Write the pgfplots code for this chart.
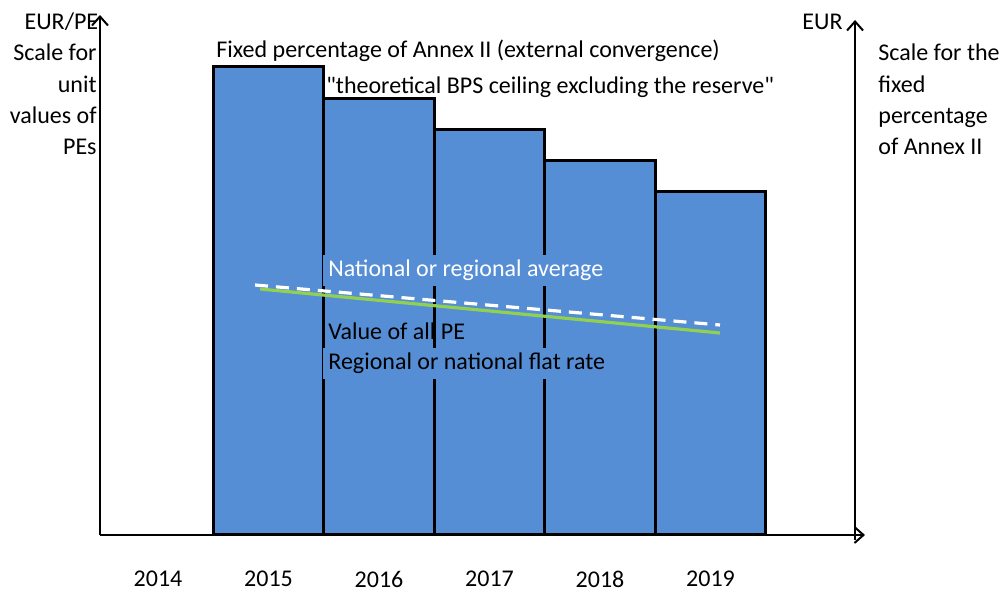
\documentclass[border=0pt]{standalone}
\usepackage{fontspec}
\setmainfont{Carlito}[Ligatures=TeXOff]
\usepackage{pgfplots}
\pgfplotsset{compat=1.18}
\usetikzlibrary{arrows.meta}
\definecolor{barblue}{HTML}{558ED5}
\definecolor{lgreen}{HTML}{92D050}
\begin{document}
\begin{tikzpicture}[font=\fontsize{12}{14}\selectfont]
\begin{axis}[
    x=55.25pt, y=0.5pt,
    xmin=2013.475, xmax=2020.398,
    ymin=0, ymax=520,
    axis lines=left,
    axis line style={line width=1pt, -{Straight Barb[length=4.5pt,width=8pt]}},
    enlargelimits=false,
    clip=false,
    xtick={2014,2015,2016,2017,2018,2019},
    xticklabels={2014,2015,2016,2017,2018,2019},
    xtick style={draw=none},
    ytick=\empty,
    xticklabel style={anchor=center, yshift=-20pt, font=\fontsize{12}{14}\selectfont},
]
% fixed percentage of Annex II per year
\addplot[ybar, bar width=1, bar shift=0pt, fill=barblue, draw=black, line width=1.5pt]
    coordinates {(2015,468) (2016,436) (2017,405) (2018,374) (2019,343)};
% national or regional average
\addplot[white, line width=1.6pt, dash pattern=on 6.5pt off 4pt]
    coordinates {(2014.878,250) (2019.086,210)};
% regional or national flat rate
\addplot[lgreen, line width=1.6pt]
    coordinates {(2014.923,246) (2019.086,202)};

% right axis
\draw[line width=1pt, -{Straight Barb[length=4.5pt,width=8pt]}]
    (axis cs:2020.308,-5) -- (axis cs:2020.308,515);

\node[anchor=base east, inner sep=1pt] at (axis cs:2013.480,505.3) {EUR/PE};
\node[anchor=base east, inner sep=1pt] at (axis cs:2013.466,474.3) {Scale for};
\node[anchor=base east, inner sep=1pt] at (axis cs:2013.466,442.3) {unit};
\node[anchor=base east, inner sep=1pt] at (axis cs:2013.466,411.3) {values of};
\node[anchor=base east, inner sep=1pt] at (axis cs:2013.466,380.3) {PEs};

\node[anchor=base west, inner sep=0pt] at (axis cs:2019.828,505.3) {EUR};
\node[anchor=base west, inner sep=0pt] at (axis cs:2020.516,474.3) {Scale for the};
\node[anchor=base west, inner sep=0pt] at (axis cs:2020.516,442.3) {fixed};
\node[anchor=base west, inner sep=0pt] at (axis cs:2020.516,411.3) {percentage};
\node[anchor=base west, inner sep=0pt] at (axis cs:2020.516,380.3) {of Annex II};

\node[anchor=base west, inner sep=0pt] at (axis cs:2014.525,477.3)
    {Fixed percentage of Annex II (external convergence)};
\node[anchor=base west, inner sep=0pt] at (axis cs:2015.520,441.3)
    {"theoretical BPS ceiling excluding the reserve"};

\node[anchor=west, fill=barblue, text=white, inner xsep=2.5pt, inner ysep=0pt,
      minimum height=15.5pt, text width=158pt, align=flush left]
    at (axis cs:2015.493,264.5) {National or regional average};
\node[anchor=base west, inner sep=0pt] at (axis cs:2015.538,195.3) {Value of all PE};
\node[anchor=west, fill=barblue, inner xsep=2.5pt, inner ysep=0pt,
      minimum height=15.5pt, text width=158pt, align=flush left]
    at (axis cs:2015.493,171.5) {Regional or national flat rate};

\coordinate (bbA) at (axis cs:2012.570,-55);
\coordinate (bbB) at (axis cs:2021.620,535);
\end{axis}
\pgfresetboundingbox
\path[use as bounding box] (bbA) rectangle (bbB);
\end{tikzpicture}
\end{document}
